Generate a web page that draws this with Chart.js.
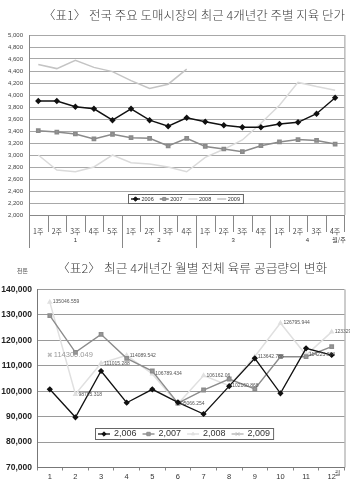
<!DOCTYPE html>
<html>
<head>
<meta charset="utf-8">
<script src="https://cdn.jsdelivr.net/npm/chart.js@4.4.0/dist/chart.umd.min.js"></script>
<style>
body{margin:0;background:#fff;width:350px;height:485px;position:relative;overflow:hidden;font-family:"Noto Sans CJK KR","Noto Sans",sans-serif}
.wrap{position:absolute;left:0;width:350px}
.ttl{position:absolute;white-space:nowrap;color:#3c3c3c;font-size:12px;font-weight:300;line-height:14px;transform-origin:0 0}
.small{position:absolute;white-space:nowrap;color:#555;font-size:6px;line-height:7px}
</style>
</head>
<body>
<div class="wrap" style="top:0;height:252px"><canvas id="c1" width="350" height="252"></canvas></div>
<div class="wrap" style="top:250px;height:235px"><canvas id="c2" width="350" height="235"></canvas></div>
<div class="ttl" id="t1" style="left:43px;top:8px">〈표1〉 전국 주요 도매시장의 최근 4개년간 주별 지육 단가</div>
<div class="ttl" id="t2" style="left:57px;top:261px">〈표2〉 최근 4개년간 월별 전체 육류 공급량의 변화</div>
<div class="small" style="left:17px;top:267px">천톤</div>
<div class="small" style="left:335px;top:469px">월</div>
<script>
// ── 표1 : 주별 지육 단가 (원/kg) ──
const WEEK_LABELS = ['1주','2주','3주','4주','5주','1주','2주','3주','4주','1주','2주','3주','4주','1주','2주','3주','4주'];
const MONTHS = ['1','2','3','4'];
const WEEKS_PER_MONTH = [5,4,4,4];
const WEEK_AXIS_UNIT = '월/주';
const PRICE_2006 = [3900,3900,3805,3770,3580,3770,3580,3480,3620,3555,3495,3462,3462,3517,3545,3688,3955];
const PRICE_2007 = [3405,3383,3350,3267,3345,3288,3278,3150,3278,3142,3100,3055,3155,3217,3258,3242,3183];
const PRICE_2008 = [3000,2750,2720,2800,3000,2870,2850,2800,2720,2960,3095,3250,3530,3830,4210,4140,4080];
const PRICE_2009 = [4510,4440,4580,4460,4390,4240,4110,4180,4430,null,null,null,null,null,null,null,null];

// ── 표2 : 월별 육류 공급량 (톤) ──
const MONTH_LABELS = ['1','2','3','4','5','6','7','8','9','10','11','12'];
const SUPPLY_2006 = [100750,89740,107950,95480,100750,95640,91040,102000,112940,99180,116870,114240];
const SUPPLY_2007 = [129700,115300,122380,112940,107950,95300,100470,104800,100870,113570,113570,117500];
const SUPPLY_2008 = [135046.559,98795.318,111015.288,114089.542,106789.434,95066.254,106162.06,102160.868,113642.788,126795.944,114223.074,123329.328];
const SUPPLY_2009 = [114300.049,null,null,null,null,null,null,null,null,null,null,null];

function line(ctx,x1,y1,x2,y2){ ctx.beginPath(); ctx.moveTo(x1,y1); ctx.lineTo(x2,y2); ctx.stroke(); }

function drawBoxLegend(chart,o){
  const ctx=chart.ctx;
  ctx.save();
  ctx.font=o.font;
  const items=chart.data.datasets.map(d=>({d,tw:ctx.measureText(d.label).width}));
  const total=o.pad*2+items.reduce((s,it)=>s+o.sample+o.gap+it.tw,0)+o.itemGap*(items.length-1);
  ctx.fillStyle='#fff'; ctx.fillRect(o.x,o.y,total,o.h);
  ctx.strokeStyle=o.border; ctx.lineWidth=1; ctx.strokeRect(o.x+0.5,o.y+0.5,total,o.h);
  let x=o.x+o.pad; const cy=o.y+o.h/2+0.5;
  items.forEach(({d,tw})=>{
    ctx.strokeStyle=d.borderColor; ctx.lineWidth=d.borderWidth;
    line(ctx,x,cy,x+o.sample,cy);
    if(d.pointRadius>0){
      ctx.fillStyle=d.pointBackgroundColor||d.borderColor; ctx.strokeStyle=d.borderColor; ctx.lineWidth=1;
      Chart.helpers.drawPoint(ctx,{pointStyle:d.pointStyle,radius:d.pointRadius,rotation:0,borderWidth:1},x+o.sample/2,cy);
    }
    ctx.fillStyle=o.color; ctx.textAlign='left'; ctx.textBaseline='middle';
    ctx.fillText(d.label,x+o.sample+o.gap,cy);
    x+=o.sample+o.gap+tw+o.itemGap;
  });
  ctx.restore();
}

const weekAxisPlugin={
  id:'weekAxis',
  afterDraw(chart){
    const {ctx,chartArea:a}=chart;
    const n=WEEK_LABELS.length, w=(a.right-a.left)/n;
    const bounds=new Set([0]); let acc=0;
    WEEKS_PER_MONTH.forEach(c=>{acc+=c; bounds.add(acc);});
    ctx.save();
    ctx.strokeStyle='#999'; ctx.lineWidth=1;
    line(ctx,a.right+0.5,a.top,a.right+0.5,a.bottom);
    ctx.strokeStyle='#888';
    for(let k=0;k<=n;k++){
      const x=Math.round(a.left+k*w)+0.5;
      const long=bounds.has(k)&&k<n;
      line(ctx,x,a.bottom,x,a.bottom+(long?33:17));
    }
    ctx.fillStyle='#333'; ctx.textAlign='center'; ctx.textBaseline='middle';
    ctx.font='6px "Liberation Sans"';
    let start=0;
    MONTHS.forEach((m,i)=>{
      ctx.fillText(m,a.left+(start+WEEKS_PER_MONTH[i]/2)*w,a.bottom+25);
      start+=WEEKS_PER_MONTH[i];
    });
    ctx.font='6px "Noto Sans CJK KR"';
    ctx.fillText(WEEK_AXIS_UNIT,339,a.bottom+25);
    ctx.restore();
    drawBoxLegend(chart,{x:128,y:194,h:9,pad:3,sample:9,gap:1.5,itemGap:6,font:'5.5px "Liberation Sans"',color:'#333',border:'#666'});
  }
};

const monthAxisPlugin={
  id:'monthAxis',
  afterDatasetsDraw(chart){
    const ctx=chart.ctx;
    chart.data.datasets.forEach((d,i)=>{
      if(!d.valueLabel) return;
      const meta=chart.getDatasetMeta(i);
      ctx.save();
      ctx.font=d.valueLabel.font; ctx.fillStyle=d.valueLabel.color;
      ctx.textAlign='left'; ctx.textBaseline='middle';
      meta.data.forEach((pt,j)=>{
        const v=d.data[j]; if(v==null) return;
        ctx.fillText(String(v),pt.x+d.valueLabel.dx,pt.y);
      });
      ctx.restore();
    });
  },
  afterDraw(chart){
    const {ctx,chartArea:a}=chart;
    ctx.save(); ctx.strokeStyle='#999'; ctx.lineWidth=1;
    line(ctx,a.right+0.5,a.top,a.right+0.5,a.bottom);
    ctx.restore();
    drawBoxLegend(chart,{x:95,y:178,h:11,pad:3,sample:12,gap:4,itemGap:6,font:'9px "Liberation Sans"',color:'#333',border:'#666'});
  }
};

new Chart(document.getElementById('c1'),{
  type:'line',
  data:{
    labels:WEEK_LABELS,
    datasets:[
      {label:'2006',data:PRICE_2006,borderColor:'#111',backgroundColor:'#111',borderWidth:1.4,pointStyle:'rectRot',pointRadius:2.2,tension:0},
      {label:'2007',data:PRICE_2007,borderColor:'#8a8a8a',backgroundColor:'#999',pointBackgroundColor:'#999',borderWidth:1.6,pointStyle:'rect',pointRadius:2.2,tension:0},
      {label:'2008',data:PRICE_2008,borderColor:'#dadada',backgroundColor:'#dadada',borderWidth:1.5,pointRadius:0,tension:0},
      {label:'2009',data:PRICE_2009,borderColor:'#c4c4c4',backgroundColor:'#c4c4c4',borderWidth:1.5,pointRadius:0,tension:0}
    ]
  },
  options:{
    responsive:false,animation:false,
    layout:{padding:{top:35,right:5,left:0,bottom:0}},
    plugins:{legend:{display:false},tooltip:{enabled:false}},
    scales:{
      x:{
        offset:true,
        grid:{display:false},
        border:{display:true,color:'#888'},
        ticks:{padding:4,color:'#444',font:{family:'"Noto Sans CJK KR"',size:7},maxRotation:0,autoSkip:false},
        afterFit:s=>{s.height=37;}
      },
      y:{
        min:2000,max:5000,
        grid:{color:'#a8a8a8',drawTicks:false},
        border:{display:true,color:'#888'},
        ticks:{stepSize:200,padding:6,color:'#444',font:{family:'"Liberation Sans"',size:6},callback:v=>v.toLocaleString('en-US')},
        afterFit:s=>{s.width=29;}
      }
    }
  },
  plugins:[weekAxisPlugin]
});

new Chart(document.getElementById('c2'),{
  type:'line',
  data:{
    labels:MONTH_LABELS,
    datasets:[
      {label:'2,006',data:SUPPLY_2006,borderColor:'#111',backgroundColor:'#111',borderWidth:1.3,pointStyle:'rectRot',pointRadius:2.2,tension:0},
      {label:'2,007',data:SUPPLY_2007,borderColor:'#8c8c8c',backgroundColor:'#999',pointBackgroundColor:'#999',borderWidth:1.4,pointStyle:'rect',pointRadius:2.4,tension:0},
      {label:'2,008',data:SUPPLY_2008,borderColor:'#e0e0e0',backgroundColor:'#e4e4e4',borderWidth:1.5,pointStyle:'triangle',pointRadius:1.8,tension:0,
        valueLabel:{font:'5px "Liberation Sans"',color:'#555',dx:3}},
      {label:'2,009',data:SUPPLY_2009,borderColor:'#bbb',backgroundColor:'#bbb',borderWidth:1.5,pointStyle:'crossRot',pointRadius:2.5,tension:0,
        valueLabel:{font:'7.5px "Liberation Sans"',color:'#999',dx:4}}
    ]
  },
  options:{
    responsive:false,animation:false,
    layout:{padding:{top:39.5,right:5,left:0,bottom:0}},
    plugins:{legend:{display:false},tooltip:{enabled:false}},
    scales:{
      x:{
        offset:true,
        grid:{drawOnChartArea:false,offset:true,tickLength:3,color:'#888'},
        border:{display:true,color:'#777'},
        ticks:{padding:2,color:'#333',font:{family:'"Liberation Sans"',size:7.5},maxRotation:0,autoSkip:false},
        afterFit:s=>{s.height=17.5;}
      },
      y:{
        min:70000,max:140000,
        grid:{color:'#9a9a9a',drawTicks:false},
        border:{display:true,color:'#777'},
        ticks:{stepSize:10000,padding:5,color:'#222',font:{family:'"Liberation Sans"',size:8.5,weight:'bold'}},
        afterFit:s=>{s.width=37;}
      }
    }
  },
  plugins:[monthAxisPlugin]
});

// 제목 폭을 원본에 맞춤
function fitWidth(id,w){ const el=document.getElementById(id); el.style.transform='scaleX('+(w/el.offsetWidth)+')'; }
fitWidth('t1',302);
fitWidth('t2',270);
</script>
</body>
</html>
